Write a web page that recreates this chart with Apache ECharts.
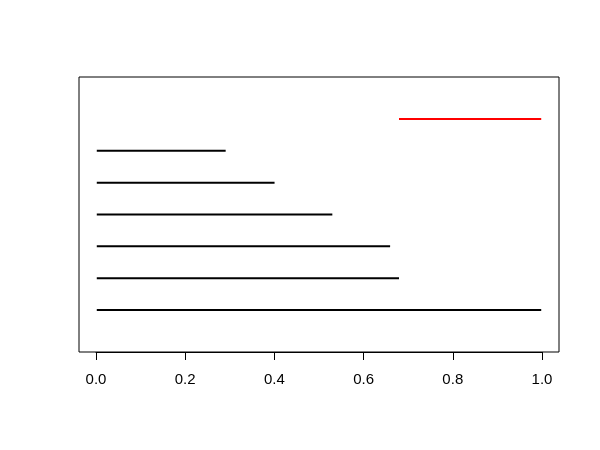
<!DOCTYPE html>
<html>
<head>
<meta charset="utf-8">
<script src="https://cdn.jsdelivr.net/npm/echarts@6/dist/echarts.min.js"></script>
</head>
<body style="margin:0;background:#fff;">
<div id="chart" style="width:600px;height:450px;"></div>
<script>
// segment data: each segment from x0 to x1 at height y
const segY = [1, 2, 3, 4, 5, 6, 7];
const segStart = [0, 0, 0, 0, 0, 0, 0.68];
const segEnd = [1.0, 0.68, 0.66, 0.53, 0.40, 0.29, 1.0];
const segColor = ['#000', '#000', '#000', '#000', '#000', '#000', '#ff0000'];
const xTicks = [0, 0.2, 0.4, 0.6, 0.8, 1.0];

const segData = segY.map((y, i) => [segStart[i], segEnd[i], y, i]);

const chart = echarts.init(document.getElementById('chart'));
chart.setOption({
  animation: false,
  grid: [
    // the plot box, range padded 4% like R
    { left: 79, right: 41, top: 77, bottom: 98, show: true, borderColor: '#000', borderWidth: 1, backgroundColor: 'transparent' },
    // axis only from 0 to 1
    { left: 96, right: 58, top: 77, bottom: 98, show: false }
  ],
  xAxis: [
    { gridIndex: 0, type: 'value', min: -0.04, max: 1.04, show: false },
    {
      gridIndex: 1, type: 'value', min: 0, max: 1, interval: 0.2,
      axisLine: { show: true, lineStyle: { color: '#000', width: 1 } },
      axisTick: { show: true, length: 8, lineStyle: { color: '#000' } },
      splitLine: { show: false },
      axisLabel: {
        color: '#000', fontSize: 15, fontFamily: 'Liberation Sans, Arial, sans-serif', margin: 20,
        formatter: v => v.toFixed(1)
      }
    }
  ],
  yAxis: [
    { gridIndex: 0, type: 'value', min: -0.32, max: 8.32, show: false },
    { gridIndex: 1, type: 'value', min: 0, max: 1, show: false }
  ],
  series: [{
    type: 'custom',
    xAxisIndex: 0,
    yAxisIndex: 0,
    data: segData,
    renderItem: (params, api) => {
      const p0 = api.coord([api.value(0), api.value(2)]);
      const p1 = api.coord([api.value(1), api.value(2)]);
      return {
        type: 'line',
        shape: { x1: p0[0], y1: p0[1], x2: p1[0], y2: p1[1] },
        style: { stroke: segColor[api.value(3)], lineWidth: 2 }
      };
    }
  }]
});
</script>
</body>
</html>
